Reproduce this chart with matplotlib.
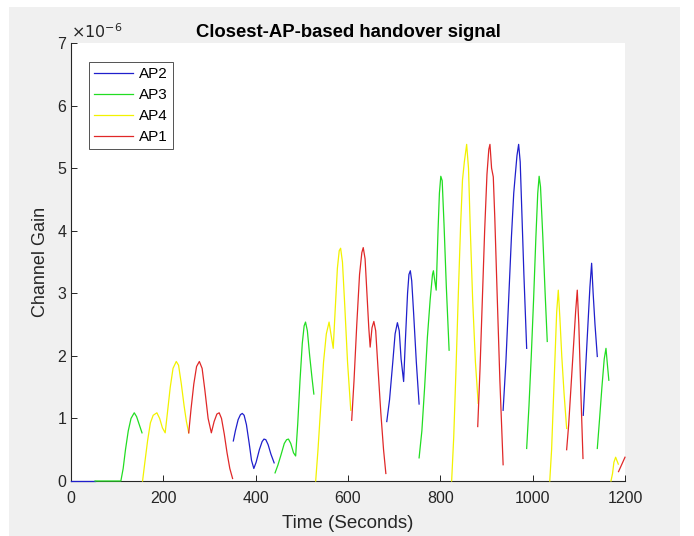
import matplotlib
matplotlib.use('Agg')
import matplotlib.pyplot as plt
from matplotlib.patches import Rectangle
from matplotlib.ticker import FuncFormatter
import numpy as np

plt.rcParams['font.family'] = ['Liberation Sans', 'DejaVu Sans']

# Serving-AP segments, time in seconds, gain in units of 1e-6
ap2_segments = [
    ([0, 52], [0, 0]),
    ([351.6, 356, 362, 367, 371, 375, 380, 386, 391, 396, 401, 408, 414, 418, 422, 427, 433, 440],
     [0.64, 0.8, 0.98, 1.06, 1.08, 1.05, 0.9, 0.6, 0.33, 0.2, 0.3, 0.5, 0.63, 0.67, 0.66, 0.58, 0.43, 0.29]),
    ([684, 690, 697, 702, 707, 711, 715, 720.5, 724, 729, 732, 735, 738, 742, 748, 754],
     [0.95, 1.3, 1.9, 2.35, 2.53, 2.4, 1.95, 1.59, 2.2, 3.0, 3.3, 3.36, 3.2, 2.7, 1.9, 1.23]),
    ([936, 942, 948, 954, 959, 962, 966, 969.6, 973, 977, 981, 987],
     [1.13, 1.9, 2.9, 3.9, 4.6, 4.86, 5.2, 5.38, 5.1, 4.2, 3.3, 2.12]),
    ([1109.6, 1114, 1119, 1124, 1127.7, 1131, 1135, 1140],
     [1.05, 1.7, 2.4, 3.1, 3.48, 3.0, 2.5, 1.99]),
]

ap3_segments = [
    ([52, 108, 113, 118, 124, 130, 137, 142, 147, 153.8],
     [0, 0, 0.2, 0.5, 0.8, 1.0, 1.09, 1.03, 0.92, 0.77]),
    ([442, 448, 455, 462, 467, 471, 476, 482, 486.6, 491, 496, 501, 505, 508, 512, 517, 522, 526],
     [0.13, 0.25, 0.42, 0.6, 0.66, 0.67, 0.6, 0.45, 0.4, 0.9, 1.6, 2.2, 2.48, 2.54, 2.4, 2.0, 1.65, 1.39]),
    ([754, 760, 766, 772, 778, 783, 785, 788, 791, 795, 798, 801, 804, 808, 813, 819],
     [0.37, 0.8, 1.5, 2.3, 2.9, 3.3, 3.36, 3.2, 3.05, 4.0, 4.6, 4.87, 4.8, 4.1, 3.1, 2.09]),
    ([987, 992, 997, 1002, 1007, 1011, 1014, 1017, 1022, 1027, 1031.6],
     [0.52, 1.2, 2.0, 2.9, 3.9, 4.6, 4.87, 4.7, 3.9, 3.0, 2.23]),
    ([1140, 1145, 1150, 1155, 1158.8, 1162, 1165],
     [0.52, 1.0, 1.5, 1.95, 2.12, 1.85, 1.61]),
]

ap4_segments = [
    ([155, 160, 166, 172, 178, 186, 192, 198, 204, 209, 215, 221, 228, 233, 239, 245, 250, 255],
     [0, 0.3, 0.65, 0.93, 1.05, 1.09, 1.0, 0.85, 0.77, 1.1, 1.5, 1.8, 1.91, 1.85, 1.55, 1.2, 0.95, 0.77]),
    ([530, 535, 541, 547, 553, 559, 563, 568, 572, 577, 581, 584, 588, 593, 599, 606],
     [0, 0.5, 1.2, 1.9, 2.35, 2.54, 2.35, 2.12, 2.7, 3.4, 3.68, 3.72, 3.5, 2.8, 1.9, 1.13]),
    ([824.5, 829, 834, 839, 844, 848, 852, 857, 861, 865, 870, 876, 882],
     [0, 0.7, 1.8, 3.0, 4.1, 4.81, 5.1, 5.38, 5.0, 4.0, 2.9, 1.9, 1.24]),
    ([1037, 1041, 1045, 1049, 1052, 1055.5, 1059, 1063, 1068, 1073.6],
     [0, 0.5, 1.3, 2.1, 2.7, 3.05, 2.6, 2.0, 1.4, 0.84]),
    ([1169.6, 1173, 1176, 1179.7, 1185.5],
     [0, 0.12, 0.3, 0.38, 0.27]),
]

ap1_segments = [
    ([255, 260, 266, 272, 278, 284, 290, 297, 304, 310, 316, 321, 326, 332, 338, 344, 350],
     [0.77, 1.15, 1.55, 1.83, 1.91, 1.8, 1.45, 1.0, 0.77, 0.95, 1.07, 1.09, 1.0, 0.75, 0.45, 0.2, 0.04]),
    ([608, 613, 619, 625, 630, 633, 637, 641, 645, 648, 652, 656, 660, 665, 671, 677, 682],
     [0.97, 1.6, 2.5, 3.3, 3.65, 3.73, 3.55, 3.0, 2.45, 2.14, 2.45, 2.55, 2.4, 1.8, 1.1, 0.5, 0.12]),
    ([881, 886, 891, 896, 901, 905, 907.5, 911, 914.7, 918, 923, 929, 936],
     [0.87, 1.8, 2.9, 4.0, 4.9, 5.3, 5.38, 5.0, 4.86, 4.2, 3.0, 1.6, 0.26]),
    ([1073.6, 1078, 1083, 1088, 1093, 1096.6, 1100, 1104, 1109],
     [0.5, 0.9, 1.5, 2.1, 2.7, 3.05, 2.5, 1.5, 0.36]),
    ([1186, 1200], [0.15, 0.38]),
]

series = [
    ('AP2', ap2_segments, '#1f1fcc'),
    ('AP3', ap3_segments, '#22dd22'),
    ('AP4', ap4_segments, '#f2f200'),
    ('AP1', ap1_segments, '#e02828'),
]

fig = plt.figure(figsize=(6.94, 5.36), dpi=100, facecolor='white')
# MATLAB-style grey figure panel
fig.patches.append(Rectangle((9 / 694, 0), (680 - 9) / 694, 1 - 7 / 536,
                             transform=fig.transFigure, facecolor='#f0f0f0',
                             edgecolor='none', zorder=-10))
ax = fig.add_axes([71 / 694, 55 / 536, 554 / 694, 438 / 536])
ax.set_facecolor('white')

for name, segs, color in series:
    first = True
    for t, g in segs:
        ax.plot(t, np.array(g) * 1e-6, color=color, linewidth=0.9, zorder=3,
                clip_on=False, label=name if first else None)
        first = False

ax.set_xlim(0, 1200)
ax.set_ylim(0, 7e-6)
ax.set_xticks(np.arange(0, 1201, 200))
ax.set_yticks(np.arange(0, 8) * 1e-6)
ax.yaxis.set_major_formatter(FuncFormatter(lambda v, p: f'{v * 1e6:.0f}'))

for side in ['top', 'right']:
    ax.spines[side].set_visible(False)
for side in ['left', 'bottom']:
    ax.spines[side].set_color('#262626')
    ax.spines[side].set_linewidth(0.8)
ax.tick_params(direction='in', length=4, width=0.7, colors='#262626',
               labelsize=11.5, labelcolor='#262626')
ax.tick_params(axis='x', pad=7)

ax.set_title('Closest-AP-based handover signal', fontsize=13.3, fontweight='bold', pad=4)
ax.set_xlabel('Time (Seconds)', fontsize=13.5, color='#262626', labelpad=7)
ax.set_ylabel('Channel Gain', fontsize=13, color='#262626', labelpad=6)
ax.text(0.0, 1.005, r'$\times10^{-6}$', transform=ax.transAxes, fontsize=11.5,
        color='#262626', ha='left', va='bottom')

leg = ax.legend(loc='upper left', bbox_to_anchor=(18 / 554, 1 - 19 / 438), fontsize=11,
                frameon=True, fancybox=False, borderpad=0.35, borderaxespad=0,
                handlelength=2.5, handletextpad=0.4, labelspacing=0.45)
leg.get_frame().set_edgecolor('#262626')
leg.get_frame().set_linewidth(0.7)

fig.savefig('out.png', dpi=100, facecolor=fig.get_facecolor())
